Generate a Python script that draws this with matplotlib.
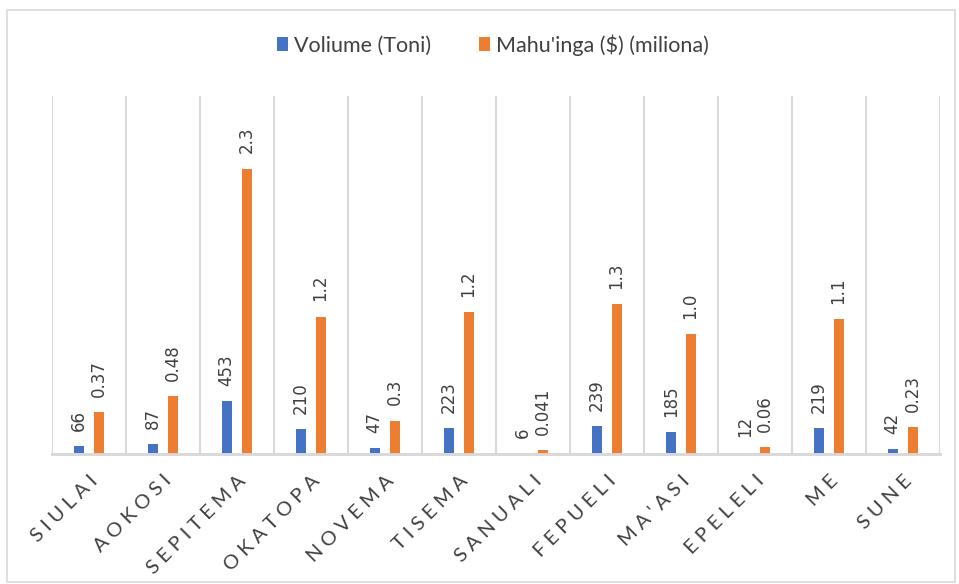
import matplotlib.pyplot as plt
import numpy as np
from matplotlib.patches import Rectangle

# months (Tongan) and values
months = ['SIULAI', 'AOKOSI', 'SEPITEMA', 'OKATOPA', 'NOVEMA', 'TISEMA',
          'SANUALI', 'FEPUELI', "MA'ASI", 'EPELELI', 'ME', 'SUNE']
volume = [66, 87, 453, 210, 47, 223, 6, 239, 185, 12, 219, 42]
value_m = [0.365, 0.50, 2.47, 1.19, 0.29, 1.23, 0.035, 1.30, 1.04, 0.06, 1.17, 0.23]
value_labels = ['0.37', '0.48', '2.3', '1.2', '0.3', '1.2',
                '0.041', '1.3', '1.0', '0.06', '1.1', '0.23']

blue = '#4472C4'
orange = '#ED7D31'
txt = '#404040'
grid = '#D9D9D9'

W, H = 959, 584
fig = plt.figure(figsize=(W / 100, H / 100), dpi=100)
fig.patches.append(Rectangle((7 / W, 2 / H), 948 / W, 572 / H, transform=fig.transFigure,
                             fill=False, edgecolor=grid, lw=1.2))

ax = fig.add_axes([52 / W, (H - 454) / H, 888 / W, (454 - 96) / H])
ax2 = ax.twinx()

x = np.arange(len(months))
bw = 0.135
b1 = ax.bar(x - 0.14, volume, bw, color=blue, label='Voliume (Toni)')
b2 = ax2.bar(x + 0.13, value_m, bw, color=orange, label="Mahu'inga ($) (miliona)")

ax.set_ylim(0, 3050)
ax2.set_ylim(0, 3.1)
ax.set_xlim(-0.5, len(months) - 0.5)

for xi, v in zip(x, volume):
    ax.annotate(str(v), (xi - 0.14, v), xytext=(0, 11), textcoords='offset points',
                rotation=90, ha='center', va='bottom', fontsize=12, color=txt)
for xi, v, lab in zip(x, value_m, value_labels):
    ax2.annotate(lab, (xi + 0.13, v), xytext=(0, 11), textcoords='offset points',
                 rotation=90, ha='center', va='bottom', fontsize=12, color=txt)

# vertical separators between months
ax.set_xticks(np.arange(-0.5, len(months)), minor=True)
ax.grid(True, which='minor', axis='x', color=grid, lw=1.5)
ax.tick_params(which='minor', length=0)
ax.set_xticks(x)
ax.set_xticklabels(['\u2009\u2009'.join(m) for m in months], rotation=45, ha='right',
                   rotation_mode='anchor', fontsize=14.5, color=txt,
                   family=['Lato', 'DejaVu Sans'])
ax.tick_params(axis='x', length=0, pad=13)
ax.set_yticks([])
ax2.set_yticks([])

for a in (ax, ax2):
    for s in ('top', 'left', 'right'):
        a.spines[s].set_visible(False)
    a.spines['bottom'].set_color(grid)
    a.spines['bottom'].set_linewidth(2)
ax.set_axisbelow(True)

fig.legend([b1, b2], ['Voliume (Toni)', "Mahu'inga ($) (miliona)"], loc='center',
           bbox_to_anchor=(493 / W, (H - 45) / H), ncol=2, frameon=False,
           prop={'family': 'Lato', 'size': 15.5}, labelcolor=txt,
           handlelength=0.5, handleheight=0.6, handletextpad=0.3, columnspacing=2.2)

fig.savefig('out.png', dpi=100)
